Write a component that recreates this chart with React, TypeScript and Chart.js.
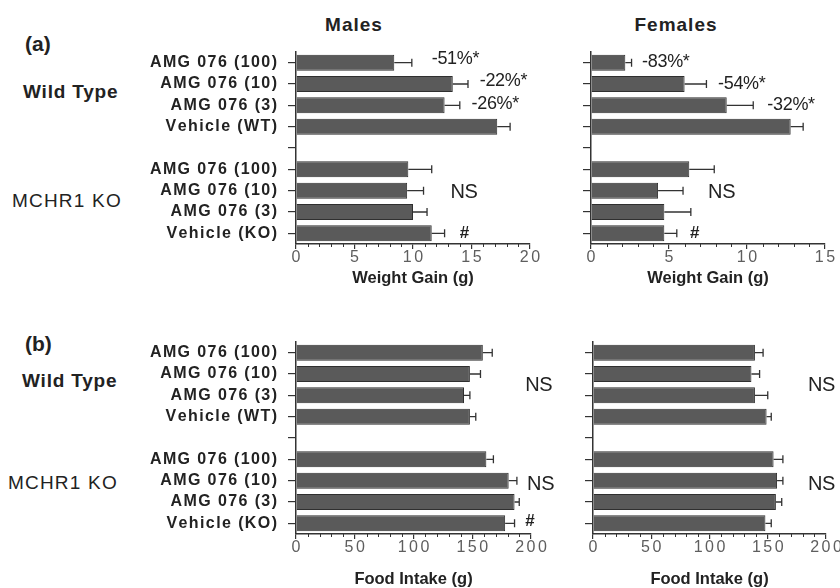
import React, { useEffect, useRef } from 'react';
import { Chart, registerables } from 'chart.js';

Chart.register(...registerables);

const FONT = '"Liberation Sans", Arial, Helvetica, sans-serif';

// ---- data ----
const rowLabels = [
  'AMG 076 (100)',
  'AMG 076 (10)',
  'AMG 076 (3)',
  'Vehicle (WT)',
  '',
  'AMG 076 (100)',
  'AMG 076 (10)',
  'AMG 076 (3)',
  'Vehicle (KO)',
];

const maleWeightGain = [8.4, 13.4, 12.7, 17.2, null, 9.6, 9.5, 10.0, 11.6];
const maleWeightGainSem = [1.5, 1.3, 1.3, 1.1, null, 2.0, 1.4, 1.2, 1.1];
const femaleWeightGain = [2.2, 6.0, 8.7, 12.8, null, 6.3, 4.3, 4.7, 4.7];
const femaleWeightGainSem = [0.4, 1.4, 1.7, 0.8, null, 1.6, 1.6, 1.7, 0.8];
const maleFoodIntake = [159, 148, 143, 148, null, 162, 181, 186, 178];
const maleFoodIntakeSem = [8, 9, 5, 5, null, 6, 7, 4, 8];
const femaleFoodIntake = [139, 136, 139, 149, null, 155, 158, 157, 148];
const femaleFoodIntakeSem = [7, 7, 11, 4, null, 8, 5, 5, 5];

const maleWeightTicks = [0, 5, 10, 15, 20];
const femaleWeightTicks = [0, 5, 10, 15];
const foodTicks = [0, 50, 100, 150, 200];

type Note = { text: string; row: number; at: number; size: number; bold?: boolean };
type Panel = {
  box: { x: number; y: number; w: number; h: number };
  area: { l: number; t: number; r: number; b: number };
  values: (number | null)[];
  errs: (number | null)[];
  ticks: number[];
  minor: number;
  title: string;
  titlePad: number;
  showLabels: boolean;
  notes: Note[];
};

const panels: Panel[] = [
  {
    box: { x: 130, y: 40, w: 430, h: 248 },
    area: { l: 296, t: 52, r: 530, b: 244 },
    values: maleWeightGain,
    errs: maleWeightGainSem,
    ticks: maleWeightTicks,
    minor: 1,
    title: 'Weight Gain (g)',
    titlePad: 0,
    showLabels: true,
    notes: [
      { text: '-51%*', row: -0.15, at: 11.6, size: 18 },
      { text: '-22%*', row: 0.88, at: 15.7, size: 18 },
      { text: '-26%*', row: 1.93, at: 15.0, size: 18 },
      { text: 'NS', row: 6.1, at: 13.2, size: 20 },
      { text: '#', row: 8, at: 14.0, size: 17, bold: true },
    ],
  },
  {
    box: { x: 565, y: 40, w: 275, h: 248 },
    area: { l: 591, t: 52, r: 825, b: 244 },
    values: femaleWeightGain,
    errs: femaleWeightGainSem,
    ticks: femaleWeightTicks,
    minor: 1,
    title: 'Weight Gain (g)',
    titlePad: 0,
    showLabels: false,
    notes: [
      { text: '-83%*', row: -0.05, at: 3.27, size: 18 },
      { text: '-54%*', row: 1.0, at: 8.14, size: 18 },
      { text: '-32%*', row: 2.0, at: 11.3, size: 18 },
      { text: 'NS', row: 6.1, at: 7.5, size: 20 },
      { text: '#', row: 8, at: 6.35, size: 17, bold: true },
    ],
  },
  {
    box: { x: 130, y: 330, w: 430, h: 258 },
    area: { l: 296, t: 342, r: 531, b: 534 },
    values: maleFoodIntake,
    errs: maleFoodIntakeSem,
    ticks: foodTicks,
    minor: 10,
    title: 'Food Intake (g)',
    titlePad: -1,
    showLabels: true,
    notes: [
      { text: 'NS', row: 1.55, at: 195, size: 20 },
      { text: 'NS', row: 6.16, at: 196.6, size: 20 },
      { text: '#', row: 7.9, at: 195, size: 17, bold: true },
    ],
  },
  {
    box: { x: 565, y: 330, w: 275, h: 258 },
    area: { l: 593, t: 342, r: 826, b: 534 },
    values: femaleFoodIntake,
    errs: femaleFoodIntakeSem,
    ticks: foodTicks,
    minor: 10,
    title: 'Food Intake (g)',
    titlePad: -1,
    showLabels: false,
    notes: [
      { text: 'NS', row: 1.55, at: 184.5, size: 20 },
      { text: 'NS', row: 6.16, at: 184.5, size: 20 },
    ],
  },
];

// draws text with manual letter spacing (canvas letterSpacing may be unsupported)
function drawSpaced(
  ctx: CanvasRenderingContext2D,
  text: string,
  x: number,
  y: number,
  spacing: number,
  align: 'left' | 'right' | 'center'
) {
  const chars = Array.from(text);
  const widths = chars.map((c) => ctx.measureText(c).width);
  const total = widths.reduce((a, b) => a + b, 0) + spacing * (chars.length - 1);
  let cx = align === 'left' ? x : align === 'right' ? x - total : x - total / 2;
  ctx.save();
  ctx.textAlign = 'left';
  chars.forEach((c, i) => {
    ctx.fillText(c, cx, y);
    cx += widths[i] + spacing;
  });
  ctx.restore();
}

function decorPlugin(p: Panel) {
  return {
    id: 'decor',
    afterDatasetsDraw(chart: any) {
      const ctx = chart.ctx;
      const xs = chart.scales.x;
      const meta = chart.getDatasetMeta(0);
      ctx.save();
      ctx.strokeStyle = '#333';
      ctx.lineWidth = 1.3;
      meta.data.forEach((bar: any, i: number) => {
        const v = p.values[i];
        const e = p.errs[i];
        if (v == null || e == null) return;
        const x1 = xs.getPixelForValue(v + e);
        const y = bar.y;
        ctx.beginPath();
        ctx.moveTo(bar.x, y);
        ctx.lineTo(x1, y);
        ctx.moveTo(x1, y - 4);
        ctx.lineTo(x1, y + 4);
        ctx.stroke();
      });
      ctx.restore();
    },
    afterDraw(chart: any) {
      const ctx = chart.ctx;
      const xs = chart.scales.x;
      const ys = chart.scales.y;
      const major = p.ticks[1] - p.ticks[0];
      const max = p.ticks[p.ticks.length - 1];
      ctx.save();
      // minor ticks
      ctx.strokeStyle = '#333';
      ctx.lineWidth = 1;
      for (let v = 0; v <= max + 1e-9; v += p.minor) {
        if (Math.abs(v / major - Math.round(v / major)) < 1e-6) continue;
        const x = Math.round(xs.getPixelForValue(v)) + 0.5;
        ctx.beginPath();
        ctx.moveTo(x, xs.top);
        ctx.lineTo(x, xs.top + 3);
        ctx.stroke();
      }
      // x tick labels
      ctx.font = `16px ${FONT}`;
      ctx.fillStyle = '#5e5e5e';
      ctx.textBaseline = 'middle';
      xs.ticks.forEach((t: any) => {
        drawSpaced(ctx, String(t.value), xs.getPixelForValue(t.value), xs.top + 13.5, 2.5, 'center');
      });
      // y category labels
      if (p.showLabels) {
        ctx.font = `bold 16px ${FONT}`;
        ctx.fillStyle = '#222';
        rowLabels.forEach((lab, i) => {
          if (!lab) return;
          drawSpaced(ctx, lab, ys.right - 19, ys.getPixelForValue(i), 1.4, 'right');
        });
      }
      // annotations
      ctx.fillStyle = '#222';
      p.notes.forEach((n) => {
        ctx.font = `${n.bold ? 'bold ' : ''}${n.size}px ${FONT}`;
        drawSpaced(ctx, n.text, xs.getPixelForValue(n.at), ys.getPixelForValue(n.row), -0.3, 'left');
      });
      ctx.restore();
    },
  };
}

function ChartPanel({ p }: { p: Panel }) {
  const ref = useRef<HTMLCanvasElement | null>(null);
  useEffect(() => {
    if (!ref.current) return;
    const padTop = p.area.t - p.box.y;
    const padRight = p.box.x + p.box.w - p.area.r;
    const yWidth = p.area.l - p.box.x;
    const xHeight = p.box.y + p.box.h - p.area.b;
    const chart = new Chart(ref.current, {
      type: 'bar',
      data: {
        labels: rowLabels,
        datasets: [
          {
            data: p.values as any,
            backgroundColor: '#5a5a5a',
            borderColor: '#2f2f2f',
            borderWidth: 1,
            barPercentage: 0.75,
            categoryPercentage: 1,
          },
        ],
      },
      options: {
        indexAxis: 'y',
        animation: false,
        responsive: false,
        maintainAspectRatio: false,
        devicePixelRatio: 1,
        layout: { padding: { left: 0, top: padTop, right: padRight, bottom: 0 } },
        plugins: {
          legend: { display: false },
          tooltip: { enabled: false },
          title: { display: false },
        },
        scales: {
          x: {
            type: 'linear',
            position: 'bottom',
            min: 0,
            max: p.ticks[p.ticks.length - 1],
            afterBuildTicks: (s: any) => {
              s.ticks = p.ticks.map((v) => ({ value: v }));
            },
            ticks: { display: false },
            grid: {
              drawOnChartArea: false,
              drawTicks: true,
              tickLength: 5,
              color: '#333',
              lineWidth: 1.2,
            },
            border: { display: true, color: '#333', width: 1.5 },
            title: {
              display: true,
              text: p.title,
              color: '#222',
              font: { family: FONT, size: 16.5, weight: 'bold' },
              padding: { top: 0, bottom: p.titlePad },
            },
            afterFit: (s: any) => {
              s.height = xHeight;
            },
          },
          y: {
            type: 'category',
            offset: true,
            ticks: { display: false, autoSkip: false },
            grid: {
              offset: false,
              drawOnChartArea: false,
              drawTicks: true,
              tickLength: 8,
              color: '#333',
              lineWidth: 1.2,
            },
            border: { display: true, color: '#333', width: 1.5 },
            afterFit: (s: any) => {
              s.width = yWidth;
            },
          },
        },
      } as any,
      plugins: [decorPlugin(p) as any],
    });
    return () => chart.destroy();
  }, [p]);
  return (
    <canvas
      ref={ref}
      width={p.box.w}
      height={p.box.h}
      style={{ position: 'absolute', left: p.box.x, top: p.box.y, width: p.box.w, height: p.box.h }}
    />
  );
}

function Label({
  text,
  x,
  cy,
  size,
  bold,
  spacing,
  center,
}: {
  text: string;
  x: number;
  cy: number;
  size: number;
  bold?: boolean;
  spacing?: number;
  center?: boolean;
}) {
  const style: React.CSSProperties = {
    position: 'absolute',
    top: cy - size / 2,
    fontFamily: FONT,
    fontSize: size,
    lineHeight: `${size}px`,
    fontWeight: bold ? 700 : 400,
    letterSpacing: spacing ? `${spacing}px` : undefined,
    color: '#222',
    whiteSpace: 'nowrap',
  };
  if (center) {
    style.left = x - 100;
    style.width = 200;
    style.textAlign = 'center';
  } else {
    style.left = x;
  }
  return <div style={style}>{text}</div>;
}

export default function App() {
  return (
    <div
      style={{
        position: 'absolute',
        left: 0,
        top: 0,
        width: 840,
        height: 588,
        background: '#fff',
        overflow: 'hidden',
      }}
    >
      {panels.map((p, i) => (
        <ChartPanel key={i} p={p} />
      ))}
      <Label text="(a)" x={25} cy={43} size={21} bold />
      <Label text="(b)" x={25} cy={343} size={21} bold />
      <Label text="Males" x={354} cy={24} size={19} bold spacing={1} center />
      <Label text="Females" x={676} cy={24} size={19} bold spacing={1} center />
      <Label text="Wild Type" x={23} cy={91} size={19} bold spacing={0.8} />
      <Label text="MCHR1 KO" x={12} cy={200} size={19} spacing={1.2} />
      <Label text="Wild Type" x={22} cy={380} size={19} bold spacing={0.8} />
      <Label text="MCHR1 KO" x={8} cy={482} size={19} spacing={1.2} />
    </div>
  );
}
